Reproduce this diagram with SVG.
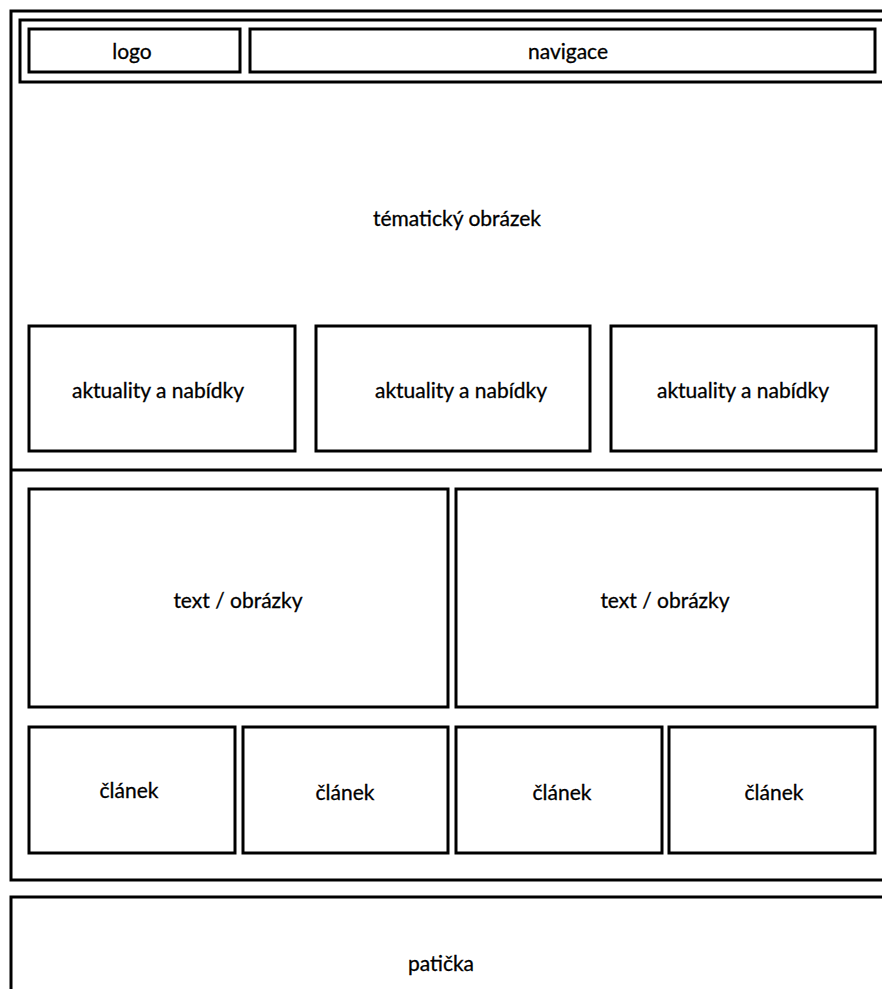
<svg xmlns="http://www.w3.org/2000/svg" width="882" height="989" viewBox="0 0 882 989">
<style>
.b{fill:#fff;stroke:#000;stroke-width:3}
.t{font-family:Lato,"Open Sans","Liberation Sans",sans-serif;font-size:21px;fill:#000;stroke:#000;stroke-width:0.3;text-anchor:middle;dominant-baseline:central}
</style>
<rect width="882" height="989" fill="#fff"/>
<g id="page"><rect class="b" x="11" y="11" width="890" height="869"/></g>
<g id="header"><rect class="b" x="20" y="20" width="880" height="62"/></g>
<g id="logo"><rect class="b" x="29" y="29" width="211" height="43"/><text class="t" x="132" y="50">logo</text></g>
<g id="navigace"><rect class="b" x="250" y="29" width="625" height="43"/><text class="t" x="568" y="50">navigace</text></g>
<g id="obrazek"><text class="t" x="457" y="217">tématický obrázek</text></g>
<g id="akt1"><rect class="b" x="29" y="326" width="266" height="125"/><text class="t" x="158" y="389">aktuality a nabídky</text></g>
<g id="akt2"><rect class="b" x="316" y="326" width="274" height="125"/><text class="t" x="461" y="389">aktuality a nabídky</text></g>
<g id="akt3"><rect class="b" x="611" y="326" width="265" height="125"/><text class="t" x="743" y="389">aktuality a nabídky</text></g>
<g id="divider"><line x1="11" y1="470" x2="882" y2="470" stroke="#000" stroke-width="3"/></g>
<g id="text1"><rect class="b" x="29" y="489" width="419" height="218"/><text class="t" x="238" y="599">text / obrázky</text></g>
<g id="text2"><rect class="b" x="456" y="489" width="421" height="218"/><text class="t" x="665" y="599">text / obrázky</text></g>
<g id="clanek1"><rect class="b" x="29" y="727" width="206" height="126"/><text class="t" x="129" y="789">článek</text></g>
<g id="clanek2"><rect class="b" x="243" y="727" width="205" height="126"/><text class="t" x="345" y="791">článek</text></g>
<g id="clanek3"><rect class="b" x="456" y="727" width="206" height="126"/><text class="t" x="562" y="791">článek</text></g>
<g id="clanek4"><rect class="b" x="669" y="727" width="206" height="126"/><text class="t" x="774" y="791">článek</text></g>
<g id="paticka"><rect class="b" x="11" y="897" width="890" height="110"/><text class="t" x="441" y="962">patička</text></g>
<g id="connectors"></g>
</svg>
